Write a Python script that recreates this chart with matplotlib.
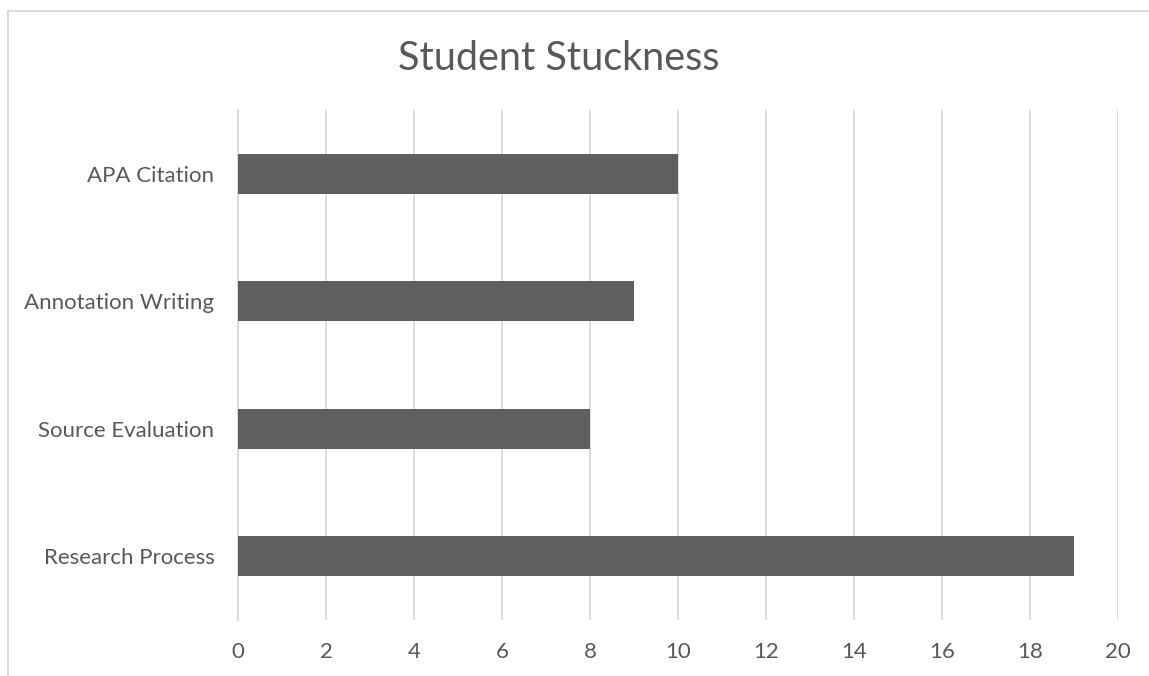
import matplotlib
matplotlib.use("Agg")
import matplotlib.pyplot as plt
from matplotlib.lines import Line2D

plt.rcParams['font.family'] = ['Lato', 'DejaVu Sans']

categories = ["Research Process", "Source Evaluation", "Annotation Writing", "APA Citation"]
counts = [19, 8, 9, 10]
xticks = [0, 2, 4, 6, 8, 10, 12, 14, 16, 18, 20]

W, H = 1149, 676
fig = plt.figure(figsize=(W / 100, H / 100), dpi=100)
ax = fig.add_axes([238 / W, 1 - 620 / H, (1118 - 238) / W, (620 - 110) / H])

ax.barh(range(len(categories)), counts, height=0.31, color="#5f5f5f", zorder=3)

ax.set_xlim(0, 20)
ax.set_ylim(-0.5, len(categories) - 0.5)
ax.set_xticks(xticks)
ax.set_yticks(range(len(categories)))
ax.set_yticklabels(categories)
ax.grid(axis="x", color="#d9d9d9", linewidth=1.3, zorder=0)
for s in ["top", "right", "bottom"]:
    ax.spines[s].set_visible(False)
ax.spines["left"].set_color("#d9d9d9")
ax.spines["left"].set_linewidth(1.3)
ax.tick_params(length=0, colors="#595959", labelsize=16)
ax.tick_params(axis="x", pad=16)
ax.tick_params(axis="y", pad=17)

fig.text(559 / W, 1 - 58 / H, "Student Stuckness", ha="center", va="center",
         fontsize=28.5, color="#595959")

# chart frame
fig.add_artist(Line2D([8 / W, 1], [1 - 11 / H, 1 - 11 / H], color="#d9d9d9", lw=1.3))
fig.add_artist(Line2D([8 / W, 8 / W], [1 - 11 / H, 0], color="#d9d9d9", lw=1.3))

fig.savefig("out.png", dpi=100)
